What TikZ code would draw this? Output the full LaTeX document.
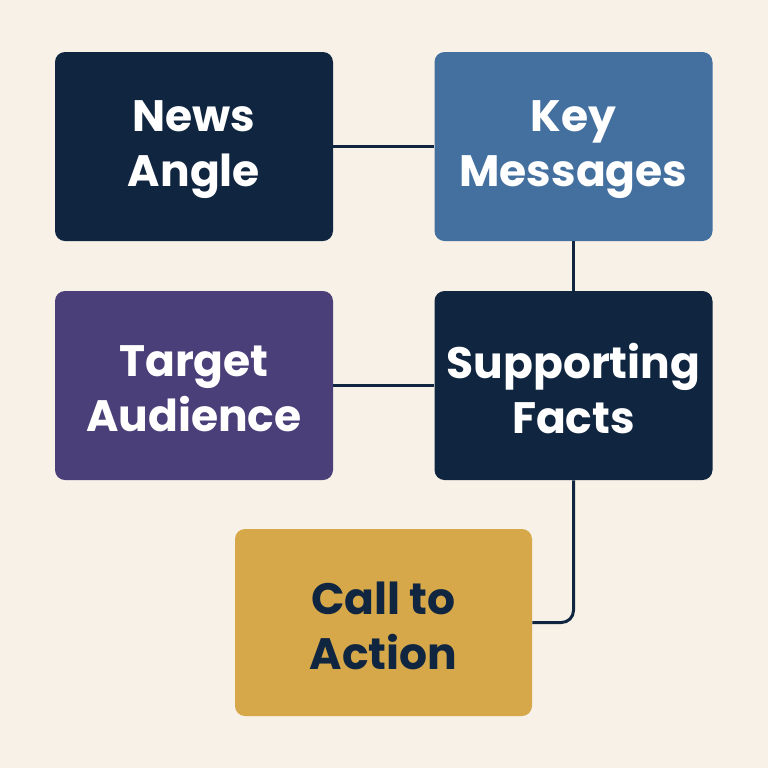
\documentclass[tikz,border=0pt]{standalone}
\usepackage{fontspec}
\setmainfont{Poppins}
\usetikzlibrary{positioning}
\definecolor{bg}{HTML}{F8F1E8}
\definecolor{navy}{HTML}{0F2540}
\definecolor{steel}{HTML}{4470A0}
\definecolor{plum}{HTML}{4A3F78}
\definecolor{gold}{HTML}{D6A84A}
\tikzset{
box/.style={rounded corners=5pt, minimum width=139pt, minimum height=94.5pt, inner sep=0pt},
caption/.style={align=center, font=\fontsize{22}{27.5}\selectfont\bfseries, text=white,
  inner sep=0pt, yshift=-1.5pt},
link/.style={draw=navy, line width=1.5pt},
}
\begin{document}
\begin{tikzpicture}[x=0.5pt,y=-0.5pt]
\useasboundingbox[fill=bg] (0,0) rectangle (768,768);
\node[box, fill=navy] (angle) at (194,146.5) {};
\node[box, fill=steel] (key) at (573.5,146.5) {};
\node[box, fill=plum] (target) at (194,385.5) {};
\node[box, fill=navy] (facts) at (573.5,385.5) {};
\node[box, fill=gold, minimum width=148.5pt, minimum height=93.5pt] (action) at (383.5,622.5) {};
% texts
\node[caption] (angle-t) at (angle) {News\\Angle};
\node[caption] (key-t) at (key) {Key\\Messages};
\node[caption] (target-t) at (target) {Target\\Audience};
\node[caption] (facts-t) at (facts) {Supporting\\Facts};
\node[caption, text=navy] (action-t) at (action) {Call to\\Action};
\draw[link] (angle) -- (key);
\draw[link] (key) -- (facts);
\draw[link] (target) -- (facts);
\draw[link, rounded corners=6pt] (facts.south) |- (action.east);
\end{tikzpicture}
\end{document}
